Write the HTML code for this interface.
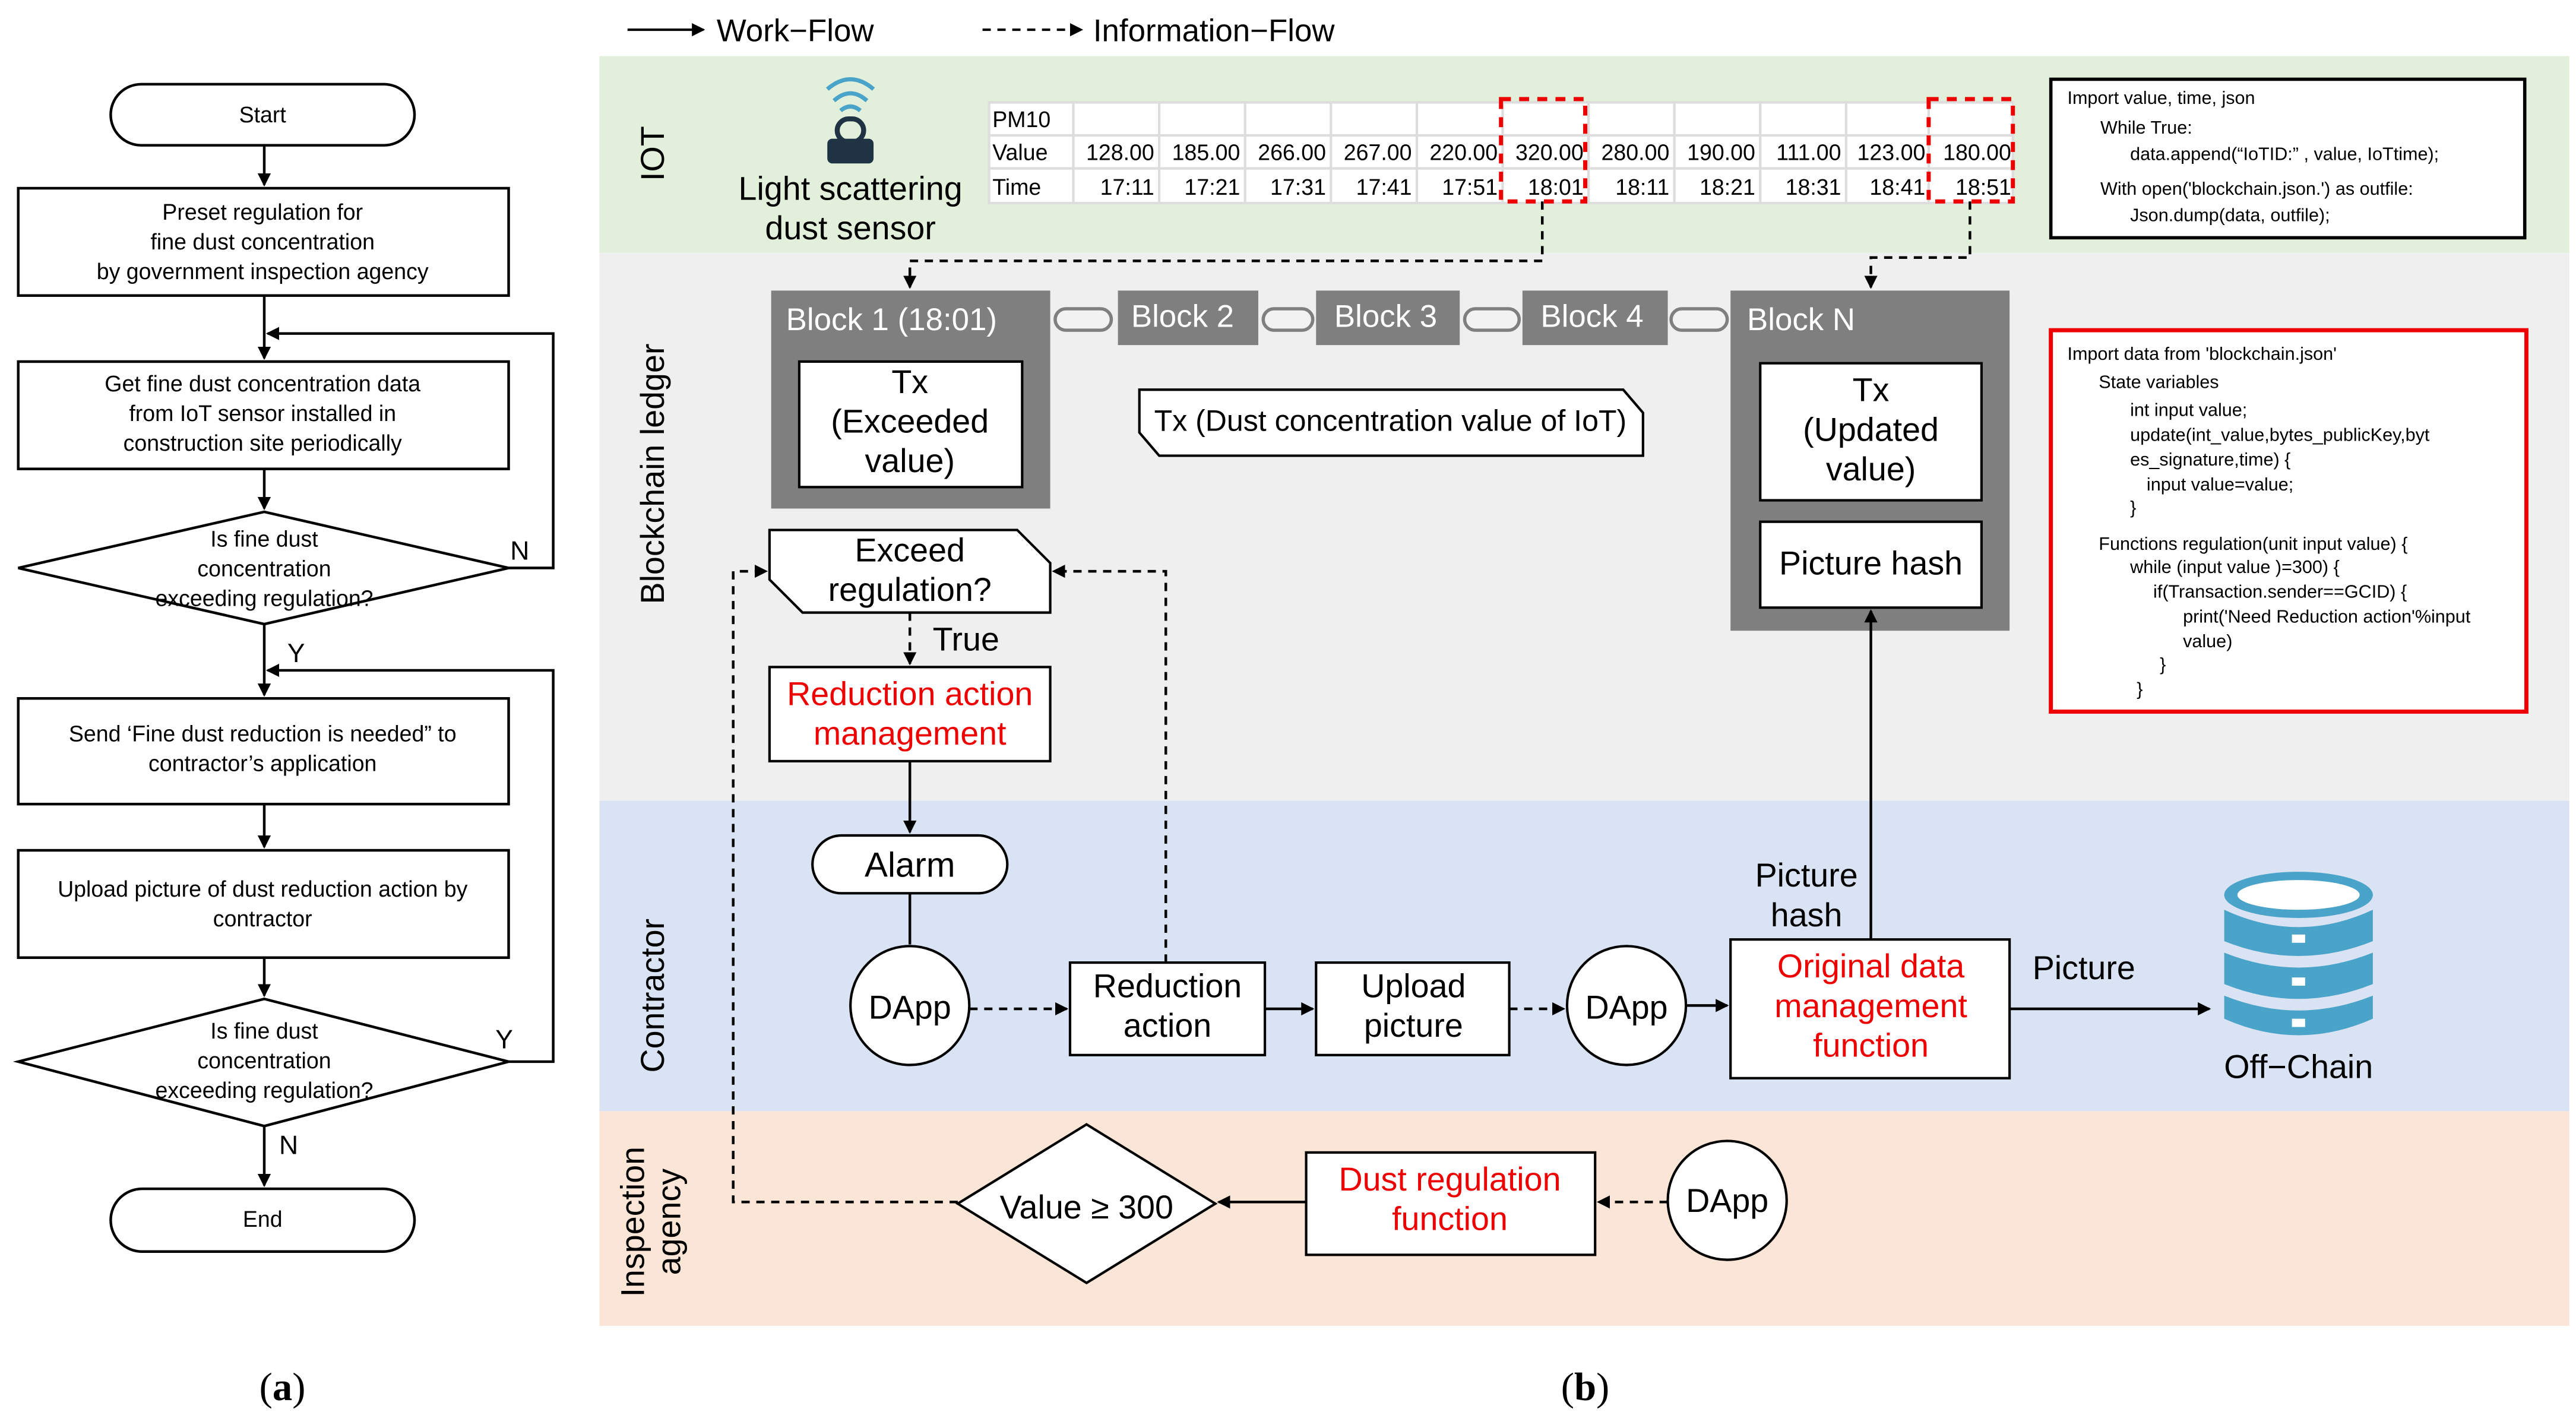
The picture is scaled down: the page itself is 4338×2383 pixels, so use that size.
<!DOCTYPE html>
<html><head><meta charset="utf-8"><style>
html,body{margin:0;padding:0;background:#fff;width:4338px;height:2383px;overflow:hidden}
svg{display:block}
text{font-family:"Liberation Sans",sans-serif;fill:#000}
</style></head><body>
<svg width="4338" height="2383" viewBox="0 0 1560 857" xmlns="http://www.w3.org/2000/svg">
<defs>
<marker id="a" markerWidth="8" markerHeight="8" refX="7" refY="4" orient="auto" markerUnits="userSpaceOnUse"><path d="M0,0 L8,4 L0,8 z" fill="#000"/></marker>
</defs>
<g stroke="#000" stroke-width="1.5" fill="none">
<line x1="380" y1="18" x2="426" y2="18" marker-end="url(#a)"/>
<line x1="595" y1="18" x2="655" y2="18" stroke-dasharray="5,4" marker-end="url(#a)"/>
</g>
<text x="434" y="25" font-size="19">Work−Flow</text>
<text x="662" y="25" font-size="19">Information−Flow</text>

<!-- (a) flowchart -->
<g stroke="#000" stroke-width="1.6" fill="#fff">
<rect x="67" y="51" width="184" height="37" rx="18.5"/>
<rect x="11" y="114" width="297" height="65"/>
<rect x="11" y="219" width="297" height="65"/>
<polygon points="11,344 160,310 308,344 160,378"/>
<rect x="11" y="423" width="297" height="64"/>
<rect x="11" y="515" width="297" height="65"/>
<polygon points="11,643 160,605 308,643 160,682"/>
<rect x="67" y="720" width="184" height="38" rx="19"/>
</g>
<g stroke="#000" stroke-width="1.6" fill="none">
<line x1="160" y1="88" x2="160" y2="112" marker-end="url(#a)"/>
<line x1="160" y1="179" x2="160" y2="217" marker-end="url(#a)"/>
<line x1="160" y1="284" x2="160" y2="308" marker-end="url(#a)"/>
<line x1="160" y1="378" x2="160" y2="421" marker-end="url(#a)"/>
<line x1="160" y1="487" x2="160" y2="513" marker-end="url(#a)"/>
<line x1="160" y1="580" x2="160" y2="603" marker-end="url(#a)"/>
<line x1="160" y1="682" x2="160" y2="718" marker-end="url(#a)"/>
<polyline points="308,344 335,344 335,202 162,202" marker-end="url(#a)"/>
<polyline points="308,643 335,643 335,406 162,406" marker-end="url(#a)"/>
</g>
<g font-size="13.5" text-anchor="middle">
<text x="159" y="74">Start</text>
<text x="159" y="133">Preset regulation  for</text>
<text x="159" y="151">fine dust concentration</text>
<text x="159" y="169">by government  inspection agency</text>
<text x="159" y="237">Get fine dust concentration  data</text>
<text x="159" y="255">from  IoT sensor installed  in</text>
<text x="159" y="273">construction  site periodically</text>
<text x="160" y="331">Is fine dust</text>
<text x="160" y="349">concentration</text>
<text x="160" y="367">exceeding regulation?</text>
<text x="159" y="449">Send  ‘Fine dust reduction  is needed”  to</text>
<text x="159" y="467">contractor’s application</text>
<text x="159" y="543">Upload picture  of dust reduction  action by</text>
<text x="159" y="561">contractor</text>
<text x="160" y="629">Is fine dust</text>
<text x="160" y="647">concentration</text>
<text x="160" y="665">exceeding regulation?</text>
<text x="159" y="743">End</text>
</g>
<text x="309" y="339" font-size="16">N</text>
<text x="174" y="401" font-size="16">Y</text>
<text x="300" y="635" font-size="16">Y</text>
<text x="169" y="699" font-size="16">N</text>
<text x="171" y="848" font-size="24" text-anchor="middle" style="font-family:'Liberation Serif',serif">(<tspan font-weight="bold">a</tspan>)</text>
<text x="960" y="848" font-size="24" text-anchor="middle" style="font-family:'Liberation Serif',serif">(<tspan font-weight="bold">b</tspan>)</text>

<!-- bands -->
<rect x="363" y="34" width="1193" height="119" fill="#e2efda"/>
<rect x="363" y="153" width="1193" height="332" fill="#efefef"/>
<rect x="363" y="485" width="1193" height="188" fill="#dae3f3"/>
<rect x="363" y="673" width="1193" height="130" fill="#fbe5d6"/>
<g font-size="20" text-anchor="middle">
<text transform="translate(402,93) rotate(-90)">IOT</text>
<text transform="translate(402,287) rotate(-90)">Blockchain ledger</text>
<text transform="translate(402,603) rotate(-90)">Contractor</text>
<text transform="translate(390,740) rotate(-90)">Inspection</text>
<text transform="translate(412,740) rotate(-90)">agency</text>
</g>

<!-- sensor icon -->
<g fill="none" stroke="#4aa3c8" stroke-width="2.5">
<path d="M501,54 Q515,42 529,54"/><path d="M505,61 Q515,52 525,61"/><path d="M509,67 Q515,62 521,67"/>
</g>
<rect x="507" y="72" width="16" height="14" rx="7" fill="none" stroke="#1f3344" stroke-width="3"/>
<rect x="501" y="84" width="28" height="15" rx="3" fill="#1f3344"/>
<text x="515" y="121" font-size="20" text-anchor="middle">Light scattering</text>
<text x="515" y="145" font-size="20" text-anchor="middle">dust sensor</text>

<!-- table -->
<rect x="599" y="62" width="620" height="61" fill="#fff" stroke="#ddd" stroke-width="1.5"/>
<g stroke="#ddd" stroke-width="1.5">
<line x1="599" y1="82" x2="1219" y2="82"/><line x1="599" y1="102" x2="1219" y2="102"/>
<line x1="650" y1="62" x2="650" y2="123"/><line x1="702" y1="62" x2="702" y2="123"/><line x1="754" y1="62" x2="754" y2="123"/><line x1="806" y1="62" x2="806" y2="123"/><line x1="858" y1="62" x2="858" y2="123"/><line x1="910" y1="62" x2="910" y2="123"/><line x1="962" y1="62" x2="962" y2="123"/><line x1="1014" y1="62" x2="1014" y2="123"/><line x1="1066" y1="62" x2="1066" y2="123"/><line x1="1118" y1="62" x2="1118" y2="123"/><line x1="1168" y1="62" x2="1168" y2="123"/>
</g>
<g font-size="13.5">
<text x="601" y="77">PM10</text><text x="601" y="97">Value</text><text x="601" y="118">Time</text>
</g>
<g font-size="13.5" text-anchor="end">
<text x="699" y="97">128.00</text><text x="751" y="97">185.00</text><text x="803" y="97">266.00</text><text x="855" y="97">267.00</text><text x="907" y="97">220.00</text><text x="959" y="97">320.00</text><text x="1011" y="97">280.00</text><text x="1063" y="97">190.00</text><text x="1115" y="97">111.00</text><text x="1166" y="97">123.00</text><text x="1218" y="97">180.00</text>
<text x="699" y="118">17:11</text><text x="751" y="118">17:21</text><text x="803" y="118">17:31</text><text x="855" y="118">17:41</text><text x="907" y="118">17:51</text><text x="959" y="118">18:01</text><text x="1011" y="118">18:11</text><text x="1063" y="118">18:21</text><text x="1115" y="118">18:31</text><text x="1166" y="118">18:41</text><text x="1218" y="118">18:51</text>
</g>
<g fill="none" stroke="#e00" stroke-width="2.5" stroke-dasharray="6,5">
<rect x="909" y="60" width="51" height="62"/><rect x="1168" y="60" width="51" height="62"/>
</g>

<!-- code box 1 -->
<rect x="1242" y="48" width="287" height="96" fill="#fff" stroke="#000" stroke-width="2"/>
<g font-size="11">
<text x="1252" y="63">Import value, time, json</text>
<text x="1272" y="81">While True:</text>
<text x="1290" y="97">data.append(“IoTID:” , value, IoTtime);</text>
<text x="1272" y="118">With open('blockchain.json.') as outfile:</text>
<text x="1290" y="134">Json.dump(data,  outfile);</text>
</g>

<!-- code box 2 -->
<rect x="1242" y="200" width="288" height="231" fill="#fff" stroke="#e00" stroke-width="2.5"/>
<g font-size="11">
<text x="1252" y="218">Import data from  'blockchain.json'</text>
<text x="1271" y="235">State variables</text>
<text x="1290" y="252">int input value;</text>
<text x="1290" y="267">update(int_value,bytes_publicKey,byt</text>
<text x="1290" y="282">es_signature,time)  {</text>
<text x="1300" y="297">input value=value;</text>
<text x="1290" y="311">}</text>
<text x="1271" y="333">Functions  regulation(unit  input value) {</text>
<text x="1290" y="347">while  (input value )=300) {</text>
<text x="1304" y="362">if(Transaction.sender==GCID)  {</text>
<text x="1322" y="377">print('Need  Reduction  action'%input</text>
<text x="1322" y="392">value)</text>
<text x="1308" y="406">}</text>
<text x="1294" y="421">}</text>
</g>

<!-- blocks -->
<rect x="467" y="176" width="169" height="132" fill="#7f7f7f"/>
<rect x="677" y="176" width="85" height="33" fill="#7f7f7f"/>
<rect x="797" y="176" width="87" height="33" fill="#7f7f7f"/>
<rect x="922" y="176" width="88" height="33" fill="#7f7f7f"/>
<rect x="1048" y="176" width="169" height="206" fill="#7f7f7f"/>
<g fill="#f2f2f2" stroke="#7f7f7f" stroke-width="2">
<rect x="639" y="187" width="34" height="13" rx="6.5"/>
<rect x="765" y="187" width="30" height="13" rx="6.5"/>
<rect x="887" y="187" width="33" height="13" rx="6.5"/>
<rect x="1012" y="187" width="34" height="13" rx="6.5"/>
</g>
<g font-size="19" style="fill:#fff">
<text x="476" y="200" style="fill:#fff">Block 1  (18:01)</text>
<text x="685" y="198" style="fill:#fff">Block 2</text>
<text x="808" y="198" style="fill:#fff">Block 3</text>
<text x="933" y="198" style="fill:#fff">Block 4</text>
<text x="1058" y="200" style="fill:#fff">Block N</text>
</g>
<g fill="#fff" stroke="#000" stroke-width="1.5">
<rect x="484" y="219" width="135" height="76"/>
<rect x="1066" y="220" width="134" height="83"/>
<rect x="1066" y="316" width="134" height="52"/>
<polygon points="690,236 983,236 995,250 995,276 702,276 690,262"/>
<polygon points="466,321 616,321 636,341 636,371 486,371 466,351"/>
<rect x="466" y="404" width="170" height="57"/>
<rect x="492" y="506" width="118" height="35" rx="17.5"/>
<circle cx="551" cy="609" r="36"/>
<rect x="648" y="583" width="118" height="56"/>
<rect x="797" y="583" width="117" height="56"/>
<circle cx="985" cy="609" r="36"/>
<rect x="1048" y="569" width="169" height="84"/>
<polygon points="580,729 658,681 736,729 658,777"/>
<rect x="791" y="698" width="175" height="62"/>
<circle cx="1046" cy="727" r="36"/>
</g>
<g font-size="20" text-anchor="middle">
<text x="551" y="238">Tx</text><text x="551" y="262">(Exceeded</text><text x="551" y="286">value)</text>
<text x="1133" y="243">Tx</text><text x="1133" y="267">(Updated</text><text x="1133" y="291">value)</text>
<text x="1133" y="348">Picture hash</text>
<text x="842" y="261" font-size="18">Tx (Dust concentration value of IoT)</text>
<text x="551" y="340">Exceed</text><text x="551" y="364">regulation?</text>
<text x="585" y="394">True</text>
<text x="551" y="427" style="fill:#e00">Reduction action</text><text x="551" y="451" style="fill:#e00">management</text>
<text x="551" y="531" font-size="21">Alarm</text>
<text x="551" y="617">DApp</text>
<text x="707" y="604">Reduction</text><text x="707" y="628">action</text>
<text x="856" y="604">Upload</text><text x="856" y="628">picture</text>
<text x="985" y="617">DApp</text>
<text x="1133" y="592" style="fill:#e00">Original data</text><text x="1133" y="616" style="fill:#e00">management</text><text x="1133" y="640" style="fill:#e00">function</text>
<text x="1094" y="537">Picture</text><text x="1094" y="561">hash</text>
<text x="1262" y="593">Picture</text>
<text x="1392" y="653">Off−Chain</text>
<text x="658" y="738">Value ≥ 300</text>
<text x="878" y="721" style="fill:#e00">Dust regulation</text><text x="878" y="745" style="fill:#e00">function</text>
<text x="1046" y="734">DApp</text>
</g>

<!-- database icon -->
<g fill="#4aa3c8">
<ellipse cx="1392" cy="542" rx="45" ry="14"/>
<path d="M1347,551 Q1392,572 1437,551 L1437,570 Q1392,588 1347,570 z"/>
<path d="M1347,577 Q1392,595 1437,577 L1437,596 Q1392,614 1347,596 z"/>
<path d="M1347,603 Q1392,621 1437,603 L1437,617 Q1392,637 1347,617 z"/>
</g>
<ellipse cx="1392" cy="542" rx="37" ry="9" fill="#fff"/>
<g fill="#fff"><rect x="1388" y="566" width="8" height="5"/><rect x="1388" y="592" width="8" height="5"/><rect x="1388" y="617" width="8" height="5"/></g>

<!-- connectors -->
<g stroke="#000" stroke-width="1.6" fill="none">
<polyline points="934,122 934,158 551,158 551,174" stroke-dasharray="5,4" marker-end="url(#a)"/>
<polyline points="1193,122 1193,156 1133,156 1133,174" stroke-dasharray="5,4" marker-end="url(#a)"/>
<line x1="551" y1="371" x2="551" y2="402" stroke-dasharray="5,4" marker-end="url(#a)"/>
<line x1="551" y1="461" x2="551" y2="504" marker-end="url(#a)"/>
<line x1="551" y1="541" x2="551" y2="572"/>
<line x1="587" y1="611" x2="646" y2="611" stroke-dasharray="5,4" marker-end="url(#a)"/>
<line x1="766" y1="611" x2="795" y2="611" marker-end="url(#a)"/>
<line x1="914" y1="611" x2="947" y2="611" stroke-dasharray="5,4" marker-end="url(#a)"/>
<line x1="1021" y1="609" x2="1046" y2="609" marker-end="url(#a)"/>
<line x1="1133" y1="569" x2="1133" y2="370" marker-end="url(#a)"/>
<line x1="1217" y1="611" x2="1338" y2="611" marker-end="url(#a)"/>
<polyline points="706,583 706,346 638,346" stroke-dasharray="5,4" marker-end="url(#a)"/>
<polyline points="580,728 444,728 444,346 464,346" stroke-dasharray="5,4" marker-end="url(#a)"/>
<line x1="791" y1="728" x2="738" y2="728" marker-end="url(#a)"/>
<line x1="1010" y1="728" x2="968" y2="728" stroke-dasharray="5,4" marker-end="url(#a)"/>
</g>
</svg>
</body></html>
